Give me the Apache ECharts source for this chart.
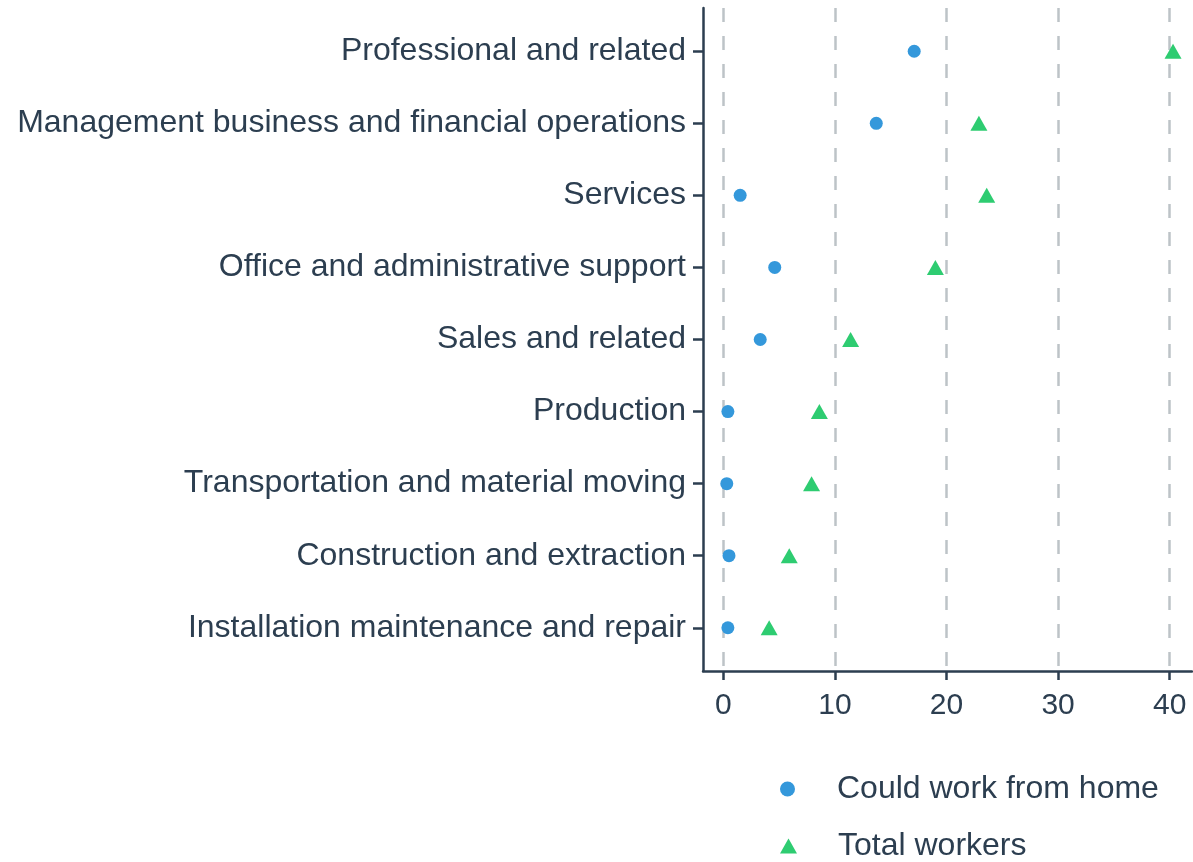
<!DOCTYPE html>
<html>
<head>
<meta charset="utf-8">
<script src="https://cdn.jsdelivr.net/npm/echarts@6/dist/echarts.min.js"></script>
<style>
  html, body { margin: 0; padding: 0; background: #fff; }
  #chart { width: 1193px; height: 862px; }
</style>
</head>
<body>
<div id="chart"></div>
<script>
// categories from bottom to top
var occupations = [
    'Installation maintenance and repair',
    'Construction and extraction',
    'Transportation and material moving',
    'Production',
    'Sales and related',
    'Office and administrative support',
    'Services',
    'Management business and financial operations',
    'Professional and related'
];
var couldWorkFromHome = [0.4, 0.5, 0.3, 0.4, 3.3, 4.6, 1.5, 13.7, 17.1];
var totalWorkers = [4.1, 5.9, 7.9, 8.6, 11.4, 19.0, 23.6, 22.9, 40.3];
var xTicks = [0, 10, 20, 30, 40];

var textColor = '#2c3e50';
var fontFamily = '"Liberation Sans", Arial, sans-serif';

function toPoints(vals) {
    return vals.map(function (v, i) { return [v, i + 1]; });
}
var yTicks = occupations.map(function (c, i) { return i + 1; });

// one legend per item, stacked under the plot
function legendItem(name, icon, top) {
    return {
        left: 775,
        top: top,
        itemWidth: 17,
        itemHeight: 15,
        textStyle: {
            color: textColor, fontSize: 32, fontFamily: fontFamily,
            padding: [0, 0, 0, 36]
        },
        data: [{ name: name, icon: icon }]
    };
}

var myChart = echarts.init(document.getElementById('chart'));
var option = {
    animation: false,
    grid: {
        left: 703,
        right: 1,
        top: 8,
        bottom: 191,
        containLabel: false
    },
    legend: [
        legendItem('Could work from home', 'circle', 768),
        legendItem('Total workers', 'triangle', 825)
    ],
    xAxis: {
        type: 'value',
        min: -1.83,
        max: 42.0,
        axisLine: { show: true, onZero: false, lineStyle: { color: textColor, width: 2.5 } },
        axisTick: {
            show: true,
            customValues: xTicks,
            length: 9,
            lineStyle: { color: textColor, width: 2.5 }
        },
        axisLabel: {
            customValues: xTicks,
            color: textColor,
            fontSize: 30,
            fontFamily: fontFamily,
            margin: 17,
            padding: [3, 0, 0, 0]
        },
        splitLine: {
            show: true,
            lineStyle: { color: '#bdc3c7', width: 2.5, type: [14, 14] }
        }
    },
    yAxis: {
        type: 'value',
        min: 0.4,
        max: 9.6,
        axisLine: { show: true, onZero: false, lineStyle: { color: textColor, width: 2.5 } },
        axisTick: {
            show: true,
            customValues: yTicks,
            length: 10,
            lineStyle: { color: textColor, width: 2.5 }
        },
        axisLabel: {
            customValues: yTicks,
            color: textColor,
            fontSize: 32,
            fontFamily: fontFamily,
            margin: 17,
            padding: [4, 0, 0, 0],
            formatter: function (v) { return occupations[Math.round(v) - 1]; }
        },
        splitLine: { show: false }
    },
    series: [
        {
            name: 'Could work from home',
            type: 'scatter',
            symbol: 'circle',
            symbolSize: 13,
            itemStyle: { color: '#3498db', opacity: 1 },
            data: toPoints(couldWorkFromHome)
        },
        {
            name: 'Total workers',
            type: 'scatter',
            symbol: 'triangle',
            symbolSize: [17, 15],
            itemStyle: { color: '#2ecc71', opacity: 1 },
            data: toPoints(totalWorkers)
        }
    ]
};
myChart.setOption(option);
</script>
</body>
</html>
